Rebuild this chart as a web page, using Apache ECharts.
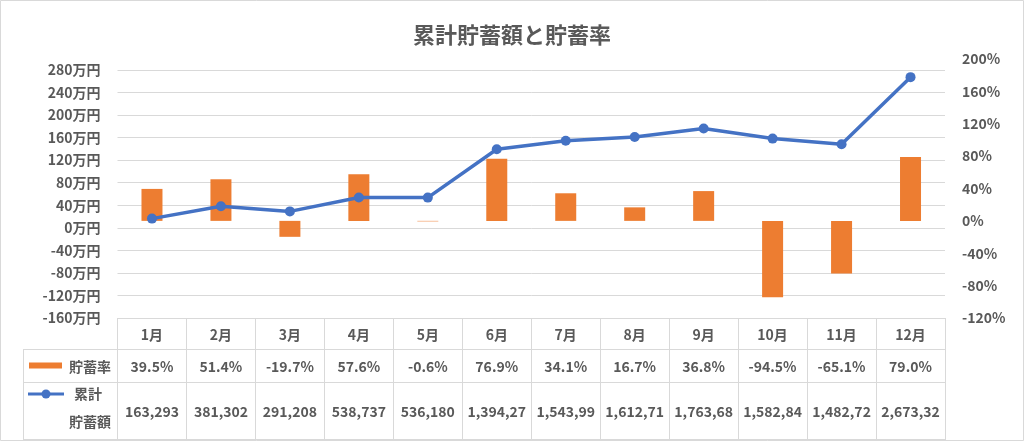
<!DOCTYPE html>
<html>
<head>
<meta charset="utf-8">
<script src="https://cdn.jsdelivr.net/npm/echarts@6/dist/echarts.min.js"></script>
<style>
html,body{margin:0;padding:0;background:#fff;}
#main{width:1024px;height:441px;}
</style>
</head>
<body>
<div id="main"></div>
<script>
// ---- data ----
const months = ['1月','2月','3月','4月','5月','6月','7月','8月','9月','10月','11月','12月'];
const savingRate = [39.5, 51.4, -19.7, 57.6, -0.6, 76.9, 34.1, 16.7, 36.8, -94.5, -65.1, 79.0];
const cumulativeSavings = [163293, 381302, 291208, 538737, 536180, 1394270, 1543990, 1612710, 1763680, 1582840, 1482720, 2673320];
const leftTicks = {min: -1600000, max: 2800000, interval: 400000};
const rightTicks = {min: -120, max: 200, interval: 40};
const titleText = '累計貯蓄額と貯蓄率';
const rateName = '貯蓄率';
const savingsNameLines = ['累計', '貯蓄額'];

const FONT = "'Noto Sans CJK JP', 'Noto Sans', sans-serif";
const WEIGHT = 'bold';
const TXT = '#595959';
const GRID_LINE = '#D9D9D9';
const ORANGE = '#ED7D31';
const BLUE = '#4472C4';

const chart = echarts.init(document.getElementById('main'), null, {renderer: 'canvas'});

const option = {
  backgroundColor: '#ffffff',
  animation: false,
  title: {
    text: titleText, left: 'center', top: 19,
    textStyle: {fontFamily: FONT, fontSize: 22, fontWeight: WEIGHT, color: TXT}
  },
  grid: [
    {left: 117.5, right: 79, top: 70, bottom: 123, containLabel: false},
    {left: 117.5, right: 79, top: 59, bottom: 123, containLabel: false}
  ],
  xAxis: [
    {type: 'category', gridIndex: 0, data: months, axisLine: {show: false}, axisTick: {show: false}, axisLabel: {show: false}},
    {type: 'category', gridIndex: 1, data: months, axisLine: {show: false}, axisTick: {show: false}, axisLabel: {show: false}}
  ],
  yAxis: [
    {type: 'value', gridIndex: 0, position: 'left', min: leftTicks.min, max: leftTicks.max, interval: leftTicks.interval,
     axisLine: {show: false}, axisTick: {show: false},
     splitLine: {show: true, lineStyle: {color: GRID_LINE, width: 1}},
     axisLabel: {margin: 17, color: TXT, fontFamily: FONT, fontSize: 14, fontWeight: WEIGHT, formatter: v => (v / 10000) + '万円'}},
    {type: 'value', gridIndex: 1, position: 'right', min: rightTicks.min, max: rightTicks.max, interval: rightTicks.interval,
     axisLine: {show: false}, axisTick: {show: false}, splitLine: {show: false},
     axisLabel: {margin: 17, color: TXT, fontFamily: FONT, fontSize: 14, fontWeight: WEIGHT, formatter: v => v + '%'}}
  ],
  series: [
    {type: 'bar', name: rateName, xAxisIndex: 1, yAxisIndex: 1, data: savingRate, barWidth: 21,
     itemStyle: {color: ORANGE}, z: 1},
    {type: 'line', name: '累計貯蓄額', xAxisIndex: 0, yAxisIndex: 0, data: cumulativeSavings,
     symbol: 'circle', symbolSize: 10, lineStyle: {color: BLUE, width: 3.5}, itemStyle: {color: BLUE}, z: 3}
  ]
};
chart.setOption(option);

// ---- data table built from the axis scale ----
const c0 = chart.convertToPixel({xAxisIndex: 0}, 0);
const c1 = chart.convertToPixel({xAxisIndex: 0}, 1);
const band = c1 - c0;
const tLeft = c0 - band / 2;
const tRight = tLeft + band * months.length;
const yHead = Math.round(chart.convertToPixel({yAxisIndex: 0}, leftTicks.min));
const yRate = yHead + 31;
const yVal = yRate + 33;
const yBot = yVal + 57;
const legLeft = 23;

const g = [];
function hline(x1, x2, y) {
  g.push({type: 'line', shape: {x1: x1, y1: y + 0.5, x2: x2, y2: y + 0.5}, style: {stroke: GRID_LINE, lineWidth: 1}, silent: true});
}
function vline(x, y1, y2) {
  const xx = Math.round(x) + 0.5;
  g.push({type: 'line', shape: {x1: xx, y1: y1, x2: xx, y2: y2}, style: {stroke: GRID_LINE, lineWidth: 1}, silent: true});
}
function text(str, x, y, align) {
  g.push({type: 'text', x: x, y: y, style: {text: str, fill: TXT, font: WEIGHT + ' 14px ' + FONT, textAlign: align || 'center', textVerticalAlign: 'middle'}, silent: true});
}
// outer border
g.push({type: 'rect', shape: {x: 0.5, y: 0.5, width: 1023, height: 440}, style: {fill: null, stroke: GRID_LINE, lineWidth: 1}, silent: true});

hline(tLeft, tRight, yHead);
hline(legLeft, tRight, yRate);
hline(legLeft, tRight, yVal);
hline(legLeft, tRight, yBot);
vline(legLeft, yRate, yBot + 1);
for (let i = 0; i <= months.length; i++) {
  vline(tLeft + band * i, yHead, yBot + 1);
}
months.forEach((m, i) => {
  const cx = chart.convertToPixel({xAxisIndex: 0}, i);
  text(m, cx, (yHead + yRate) / 2 + 1);
  text(savingRate[i].toFixed(1) + '%', cx, (yRate + yVal) / 2 + 1);
  text(cumulativeSavings[i].toLocaleString('en-US').slice(0, 8), cx, (yVal + yBot) / 2 + 1);
});
// legend keys
g.push({type: 'rect', shape: {x: 29, y: (yRate + yVal) / 2 - 3, width: 33, height: 6}, style: {fill: ORANGE}, silent: true});
text(rateName, 90, (yRate + yVal) / 2 + 1);
const ly = yVal + 12;
g.push({type: 'line', shape: {x1: 28, y1: ly, x2: 64, y2: ly}, style: {stroke: BLUE, lineWidth: 3}, silent: true});
g.push({type: 'circle', shape: {cx: 46, cy: ly, r: 4.5}, style: {fill: BLUE}, silent: true});
text(savingsNameLines[0], 88, ly);
text(savingsNameLines[1], 90, yBot - 17);

chart.setOption({graphic: {elements: g}});
</script>
</body>
</html>
